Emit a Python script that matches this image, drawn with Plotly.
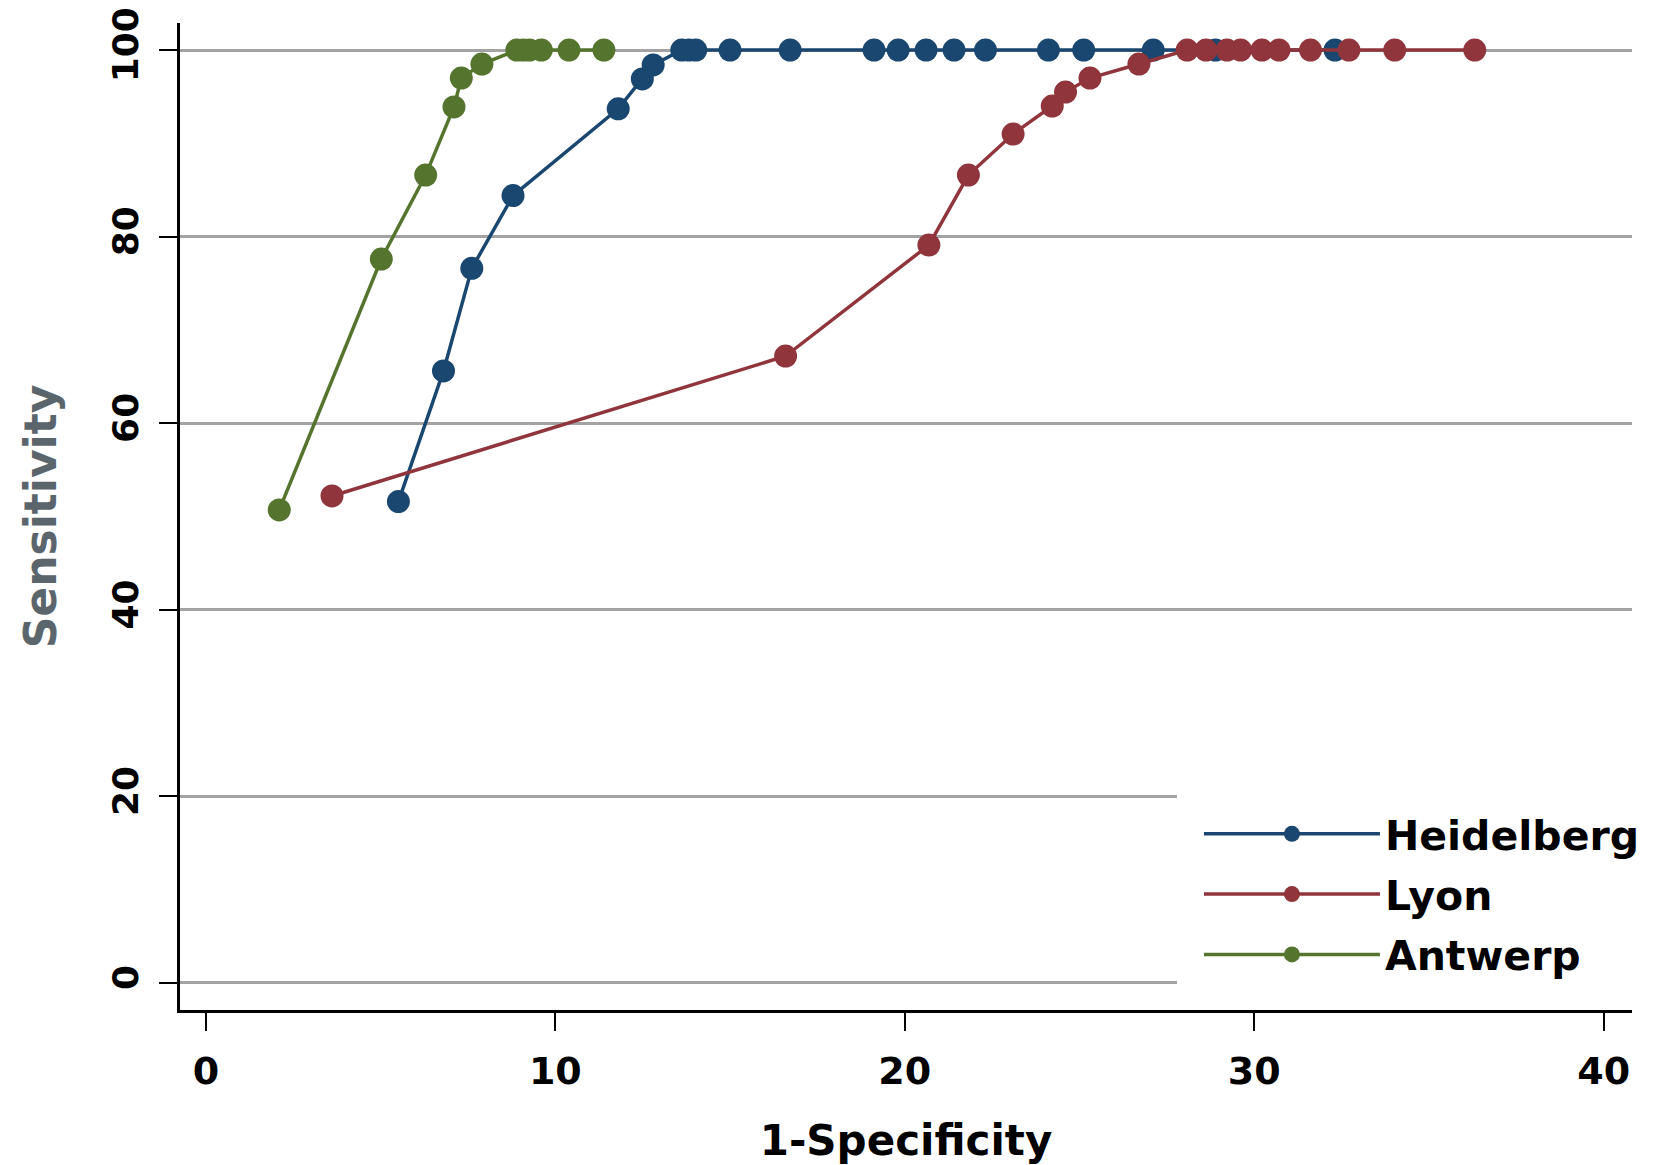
import plotly.graph_objects as go

# Heidelberg
heid_x = [5.51, 6.80, 7.61, 8.79, 11.80, 12.49, 12.80, 13.62, 13.82, 14.02, 15.00, 16.72,
          19.12, 19.81, 20.61, 21.41, 22.31, 24.11, 25.12, 27.11, 28.89, 32.31]
heid_y = [51.6, 65.6, 76.6, 84.4, 93.7, 96.9, 98.4, 100, 100, 100, 100, 100,
          100, 100, 100, 100, 100, 100, 100, 100, 100, 100]
# Lyon
lyon_x = [3.61, 16.59, 20.69, 21.82, 23.10, 24.22, 24.60, 25.30, 26.70, 28.08, 28.62,
          29.22, 29.61, 30.22, 30.71, 31.61, 32.71, 34.02, 36.31]
lyon_y = [52.2, 67.2, 79.1, 86.6, 91.0, 94.0, 95.5, 97.0, 98.5, 100, 100,
          100, 100, 100, 100, 100, 100, 100, 100]
# Antwerp
antw_x = [2.10, 5.02, 6.29, 7.10, 7.31, 7.90, 8.90, 9.08, 9.26, 9.60, 10.39, 11.39]
antw_y = [50.7, 77.6, 86.6, 93.9, 97.0, 98.5, 100, 100, 100, 100, 100, 100]

names = ["Heidelberg", "Lyon", "Antwerp"]
colors = ["#1a476f", "#90353b", "#55752f"]
y_ticks = [0, 20, 40, 60, 80, 100]
x_ticks = [0, 10, 20, 30, 40]

FONT = "DejaVu Sans"

fig = go.Figure()
for name, xs, ys, c in zip(names, [heid_x, lyon_x, antw_x], [heid_y, lyon_y, antw_y], colors):
    fig.add_trace(go.Scatter(
        x=xs, y=ys, name=name, legendgroup=name, mode="lines+markers",
        line=dict(color=c, width=3.5),
        marker=dict(color=c, size=23, line=dict(width=0)),
    ))

fig.update_layout(
    width=1650, height=1157,
    margin=dict(l=172, r=26, t=15, b=155, autoexpand=False),
    paper_bgcolor="white", plot_bgcolor="white",
    font=dict(family=FONT, color="black"),
    legend=dict(
        x=0.6866, y=0.2200, xanchor="left", yanchor="top",
        bgcolor="white", borderwidth=0,
        itemwidth=176, indentation=22,
        title=dict(text="&nbsp;", font=dict(family=FONT, size=6)),
        font=dict(family=FONT, size=41, color="black", weight="bold"),
        tracegroupgap=4,
    ),
    xaxis=dict(
        range=[-0.74, 40.81], tickvals=x_ticks, ticktext=[str(v) for v in x_ticks],
        automargin=False, ticklabeloverflow="allow",
        showgrid=False, zeroline=False,
        showline=True, linecolor="black", linewidth=3,
        ticks="outside", ticklen=18, tickwidth=2, tickcolor="black",
        ticklabelstandoff=7,
        tickfont=dict(family=FONT, size=38, color="black", weight="bold"),
        title=dict(text="1-Specificity", standoff=46,
                   font=dict(family=FONT, size=42, color="black", weight="bold")),
    ),
    yaxis=dict(
        range=[-2.9, 102.9], tickvals=y_ticks, ticktext=[str(v) for v in y_ticks],
        automargin=False, ticklabeloverflow="allow",
        tickangle=-90,
        showgrid=True, gridcolor="#a3a3a3", gridwidth=3, zeroline=False,
        showline=True, linecolor="black", linewidth=3,
        ticks="outside", ticklen=18, tickwidth=2, tickcolor="black",
        ticklabelstandoff=7,
        tickfont=dict(family=FONT, size=36, color="black", weight="bold"),
        title=dict(text="Sensitivity", standoff=35,
                   font=dict(family=FONT, size=44, color="#5a666c", weight="bold")),
    ),
)

fig.write_html("out.html")
